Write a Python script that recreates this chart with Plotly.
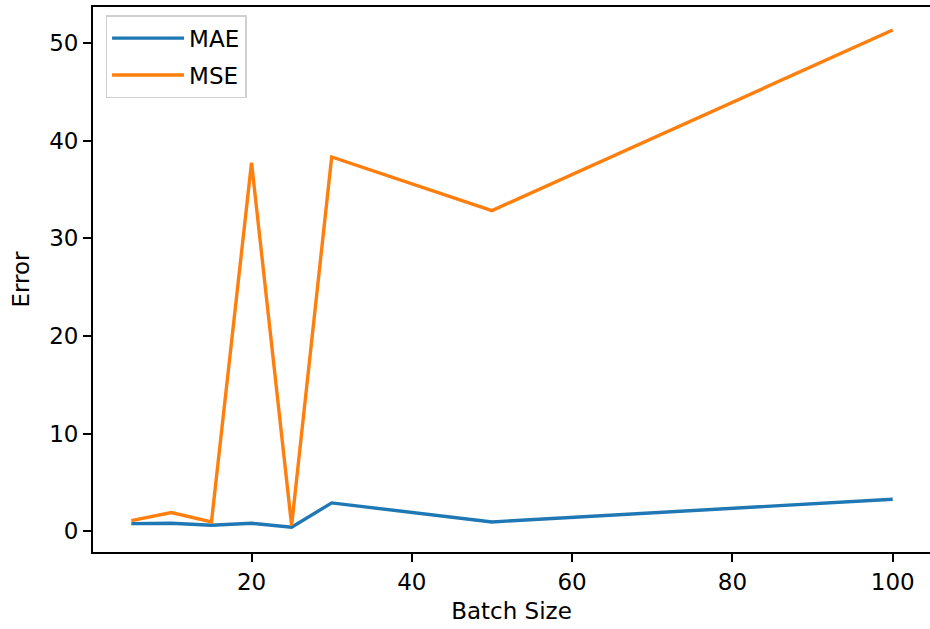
import plotly.graph_objects as go

batch_sizes = [5, 10, 15, 20, 25, 30, 50, 100]
mae = [0.79, 0.82, 0.62, 0.82, 0.41, 2.91, 0.96, 3.29]
mse = [1.10, 1.92, 0.96, 37.76, 0.60, 38.34, 32.85, 51.34]
x_ticks = [20, 40, 60, 80, 100]
y_ticks = [0, 10, 20, 30, 40, 50]

FONT = "DejaVu Sans"

fig = go.Figure()
fig.add_trace(go.Scatter(x=batch_sizes, y=mae, mode="lines", name="MAE",
                         legendgroup="a",
                         line=dict(color="#1f77b4", width=3.4)))
fig.add_trace(go.Scatter(x=batch_sizes, y=mse, mode="lines", name="MSE",
                         legendgroup="b",
                         line=dict(color="#ff7f0e", width=3.4)))

tick_common = dict(ticks="outside", ticklen=8, tickwidth=1.8, tickcolor="black",
                   showgrid=False, zeroline=False,
                   tickfont=dict(family=FONT, size=23, color="black"))

fig.update_xaxes(range=[0.22, 104.65], tickvals=x_ticks,
                 showline=True, linecolor="black", linewidth=1.8, mirror=True,
                 title=dict(text="Batch Size", font=dict(family=FONT, size=23, color="black"), standoff=9),
                 **tick_common)
fig.update_yaxes(range=[-2.12, 53.7], tickvals=y_ticks,
                 showline=True, linecolor="black", linewidth=1.8, mirror=False,
                 title=dict(text="Error", font=dict(family=FONT, size=23, color="black"), standoff=13),
                 **tick_common)

fig.update_layout(
    width=930, height=629,
    margin=dict(l=93, r=0, t=7, b=77),
    plot_bgcolor="white", paper_bgcolor="white",
    font=dict(family=FONT, size=23, color="black"),
    legend=dict(x=0.015, y=0.985, xanchor="left", yanchor="top",
                bordercolor="#d0d0d0", borderwidth=1.5, bgcolor="white",
                font=dict(family=FONT, size=23, color="black"),
                itemwidth=72, tracegroupgap=4),
    showlegend=True,
)

fig.write_html("out.html", config={"displayModeBar": False},
               post_script="document.body.style.margin='0';document.body.style.overflow='hidden';")
